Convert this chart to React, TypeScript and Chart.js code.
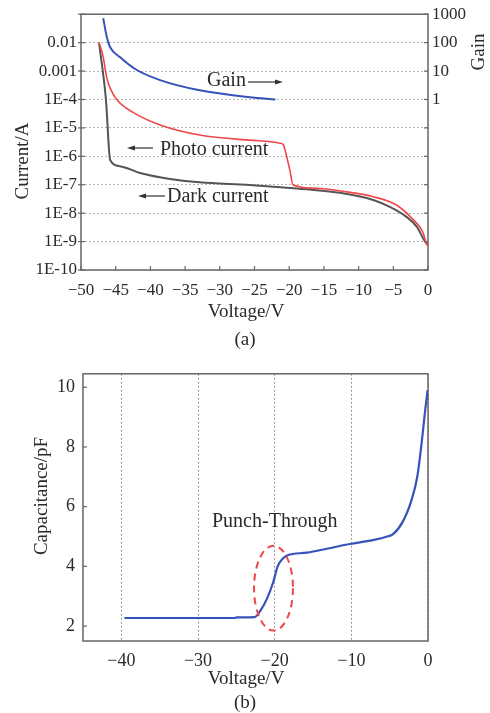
import React, { useEffect, useRef } from 'react';
import { Chart, registerables } from 'chart.js';

Chart.register(...registerables);

const SERIF = '"Liberation Serif", "Times New Roman", Times, serif';
const TEXT = '#2a2a2a';
const FRAME = '#666666';
const RED = '#f0474b';
const GRAY = '#555555';
const BLUE = '#3553b8';

// ---------- (a) current / gain vs voltage ----------
const photoVoltage = [-47.4, -46.8, -46.3, -45.8, -44.8, -42.5, -38.6, -32.9, -25.7, -21.3, -20.8, -20.6, -19.9, -19.45, -15.6, -11.7, -7.9, -4.5, -2.1, -0.76, -0.19, 0];
const photoCurrent = [1.0e-2, 3.1e-3, 6.0e-4, 2.5e-4, 9.5e-5, 3.5e-5, 1.26e-5, 5.6e-6, 3.7e-6, 2.9e-6, 2.45e-6, 1.66e-6, 3.2e-7, 9.8e-8, 7.4e-8, 5.6e-8, 3.8e-8, 1.9e-8, 5.8e-9, 2.2e-9, 8.0e-10, 7.0e-10];

const darkVoltage = [-47.4, -46.4, -45.8, -44.4, -41.5, -37.2, -32.9, -25.7, -22.3, -17.5, -12.7, -7.9, -5.5, -3.1, -1.6, -0.43, 0];
const darkCurrent = [1.0e-2, 9.5e-5, 7.4e-7, 4.5e-7, 2.6e-7, 1.6e-7, 1.23e-7, 9.8e-8, 8.5e-8, 6.9e-8, 5.2e-8, 2.9e-8, 1.66e-8, 7.4e-9, 3.3e-9, 1.0e-9, 8.0e-10];

const gainVoltage = [-46.8, -46.25, -45.8, -44.4, -42.2, -38.6, -32.9, -25.7, -22.0];
const gainValues = [720, 145, 69, 31, 11.8, 4.8, 2.1, 1.2, 1.0];

const currentTickValues = [1e-10, 1e-9, 1e-8, 1e-7, 1e-6, 1e-5, 1e-4, 1e-3, 1e-2, 1e-1];
const currentTickLabels = ['1E-10', '1E-9', '1E-8', '1E-7', '1E-6', '1E-5', '1E-4', '0.001', '0.01', ''];
const gainTickValues = [1e-6, 1e-5, 1e-4, 1e-3, 1e-2, 1e-1, 1, 10, 100, 1000];
const gainTickLabels = ['', '', '', '', '', '', '1', '10', '100', '1000'];
const voltageTicksA = [-50, -45, -40, -35, -30, -25, -20, -15, -10, -5, 0];
const voltageTickLabelsA = ['\u221250', '\u221245', '\u221240', '\u221235', '\u221230', '\u221225', '\u221220', '\u221215', '\u221210', '\u22125', '0'];

// ---------- (b) capacitance vs voltage ----------
const capVoltage = [-39.6, -25.2, -25.0, -22.6, -21.9, -21.0, -20.2, -19.6, -18.9, -18.3, -15.8, -13.2, -10.2, -7.2, -5.2, -4.6, -3.3, -2.1, -1.4, -0.8, -0.4, -0.05];
const capValues = [2.27, 2.27, 2.29, 2.30, 2.50, 2.92, 3.46, 4.01, 4.27, 4.37, 4.46, 4.59, 4.75, 4.88, 5.01, 5.07, 5.49, 6.26, 7.0, 8.2, 9.16, 9.9];

const capTickValues = [2, 4, 6, 8, 10];
const capTickLabels = ['2', '4', '6', '8', '10'];
const voltageTicksB = [-40, -30, -20, -10, 0];
const voltageTickLabelsB = ['\u221240', '\u221230', '\u221220', '\u221210', '0'];

const punchCenter = [-20.15, 3.27];
const punchRadius = [2.54, 1.42];

function toPoints(xs: number[], ys: number[]) {
  return xs.map((x, i) => ({ x, y: ys[i] }));
}

function fixedTicks(values: number[]) {
  return (scale: any) => {
    scale.ticks = values.map((v) => ({ value: v }));
  };
}

function seg(ctx: CanvasRenderingContext2D, x1: number, y1: number, x2: number, y2: number) {
  ctx.beginPath();
  ctx.moveTo(x1, y1);
  ctx.lineTo(x2, y2);
  ctx.stroke();
}

function arrow(ctx: CanvasRenderingContext2D, xFrom: number, xTo: number, y: number) {
  ctx.save();
  ctx.strokeStyle = '#333';
  ctx.fillStyle = '#333';
  ctx.lineWidth = 1.2;
  const dir = Math.sign(xTo - xFrom);
  seg(ctx, xFrom, y, xTo - dir * 4, y);
  ctx.beginPath();
  ctx.moveTo(xTo, y);
  ctx.lineTo(xTo - dir * 8, y - 2.6);
  ctx.lineTo(xTo - dir * 8, y + 2.6);
  ctx.closePath();
  ctx.fill();
  ctx.restore();
}

function text(ctx: CanvasRenderingContext2D, s: string, x: number, y: number, size: number, align: CanvasTextAlign, baseline: CanvasTextBaseline = 'alphabetic', rot = 0) {
  ctx.save();
  ctx.font = `${size}px ${SERIF}`;
  ctx.fillStyle = TEXT;
  ctx.textAlign = align;
  ctx.textBaseline = baseline;
  ctx.translate(x, y);
  if (rot) ctx.rotate(rot);
  ctx.fillText(s, 0, 0);
  ctx.restore();
}

const plotA = {
  id: 'plotA',
  beforeDatasetsDraw(chart: any) {
    const { ctx, chartArea, scales } = chart;
    const { left, right, top, bottom } = chartArea;
    ctx.save();
    ctx.strokeStyle = FRAME;
    ctx.lineWidth = 1.5;
    ctx.strokeRect(left, top, right - left, bottom - top);
    ctx.lineWidth = 1.2;
    currentTickValues.forEach((v) => {
      const y = scales.y.getPixelForValue(v);
      seg(ctx, left - 3, y, left + 4, y);
    });
    gainTickValues.forEach((v) => {
      const y = scales.y1.getPixelForValue(v);
      seg(ctx, right - 4, y, right, y);
    });
    voltageTicksA.forEach((v) => {
      const x = scales.x.getPixelForValue(v);
      seg(ctx, x, bottom, x, bottom - 4);
    });
    ctx.restore();
  },
  afterDraw(chart: any) {
    const ctx = chart.ctx;
    text(ctx, 'Current/A', 23, 161, 19, 'center', 'middle', -Math.PI / 2);
    text(ctx, 'Gain', 479, 52, 19, 'center', 'middle', -Math.PI / 2);
    text(ctx, 'Voltage/V', 246, 317, 19, 'center');
    text(ctx, '(a)', 245, 345, 19, 'center');
    text(ctx, 'Gain', 207, 86, 20, 'left');
    arrow(ctx, 248, 283, 82);
    text(ctx, 'Photo current', 160, 155, 20, 'left');
    arrow(ctx, 153, 127, 148);
    text(ctx, 'Dark current', 167, 202, 20, 'left');
    arrow(ctx, 165, 138, 196);
  },
};

const plotB = {
  id: 'plotB',
  beforeDatasetsDraw(chart: any) {
    const { ctx, chartArea, scales } = chart;
    const { left, right, top, bottom } = chartArea;
    ctx.save();
    ctx.strokeStyle = FRAME;
    ctx.lineWidth = 1.5;
    ctx.strokeRect(left, top, right - left, bottom - top);
    ctx.lineWidth = 1.2;
    capTickValues.forEach((v) => {
      const y = scales.y.getPixelForValue(v);
      seg(ctx, left, y, left + 4, y);
    });
    ctx.restore();
  },
  afterDatasetsDraw(chart: any) {
    const { ctx, scales } = chart;
    const cx = scales.x.getPixelForValue(punchCenter[0]);
    const cy = scales.y.getPixelForValue(punchCenter[1]);
    const rx = Math.abs(scales.x.getPixelForValue(punchCenter[0] + punchRadius[0]) - cx);
    const ry = Math.abs(scales.y.getPixelForValue(punchCenter[1] + punchRadius[1]) - cy);
    ctx.save();
    ctx.strokeStyle = RED;
    ctx.lineWidth = 2;
    ctx.setLineDash([7, 5]);
    ctx.beginPath();
    ctx.ellipse(cx, cy, rx, ry, 0, 0, Math.PI * 2);
    ctx.stroke();
    ctx.restore();
  },
  afterDraw(chart: any) {
    const ctx = chart.ctx;
    text(ctx, 'Capacitance/pF', 42, 141, 19, 'center', 'middle', -Math.PI / 2);
    text(ctx, 'Voltage/V', 246, 329, 19, 'center');
    text(ctx, '(b)', 245, 353, 19, 'center');
    text(ctx, 'Punch-Through', 212, 172, 20, 'left');
  },
};

const tickFont = (size: number) => ({ family: SERIF, size });

function configA(): any {
  return {
    type: 'line',
    data: {
      datasets: [
        { label: 'Photo current', data: toPoints(photoVoltage, photoCurrent), borderColor: RED, borderWidth: 1.6, pointRadius: 0, cubicInterpolationMode: 'monotone', yAxisID: 'y' },
        { label: 'Dark current', data: toPoints(darkVoltage, darkCurrent), borderColor: GRAY, borderWidth: 2, pointRadius: 0, cubicInterpolationMode: 'monotone', yAxisID: 'y' },
        { label: 'Gain', data: toPoints(gainVoltage, gainValues), borderColor: BLUE, borderWidth: 2, pointRadius: 0, cubicInterpolationMode: 'monotone', yAxisID: 'y1' },
      ],
    },
    options: {
      responsive: false,
      animation: false,
      layout: { padding: { top: 14, left: 0, right: 0, bottom: 0 } },
      plugins: { legend: { display: false }, tooltip: { enabled: false }, title: { display: false } },
      scales: {
        x: {
          type: 'linear', min: -50, max: 0,
          afterBuildTicks: fixedTicks(voltageTicksA),
          afterFit: (s: any) => { s.height = 85; },
          grid: { display: false, drawTicks: false },
          border: { display: false },
          ticks: { autoSkip: false, maxRotation: 0, padding: 10, color: TEXT, font: tickFont(17), callback: (_v: any, i: number) => voltageTickLabelsA[i] },
        },
        y: {
          type: 'logarithmic', position: 'left', min: 1e-10, max: 1e-1,
          afterBuildTicks: fixedTicks(currentTickValues),
          afterFit: (s: any) => { s.width = 81; },
          grid: { color: '#b5b5b5', lineWidth: 1, drawTicks: false },
          border: { display: false, dash: [2, 2] },
          ticks: { autoSkip: false, padding: 4, color: TEXT, font: tickFont(17), callback: (_v: any, i: number) => currentTickLabels[i] },
        },
        y1: {
          type: 'logarithmic', position: 'right', min: 1e-6, max: 1e3,
          afterBuildTicks: fixedTicks(gainTickValues),
          afterFit: (s: any) => { s.width = 62; },
          grid: { display: false, drawTicks: false, drawOnChartArea: false },
          border: { display: false },
          ticks: { autoSkip: false, padding: 4, color: TEXT, font: tickFont(17), callback: (_v: any, i: number) => gainTickLabels[i] },
        },
      },
    },
    plugins: [plotA],
  };
}

function configB(): any {
  return {
    type: 'line',
    data: {
      datasets: [
        { label: 'Capacitance', data: toPoints(capVoltage, capValues), borderColor: BLUE, borderWidth: 2.2, pointRadius: 0, cubicInterpolationMode: 'monotone' },
      ],
    },
    options: {
      responsive: false,
      animation: false,
      layout: { padding: { top: 8, left: 0, right: 62, bottom: 0 } },
      plugins: { legend: { display: false }, tooltip: { enabled: false }, title: { display: false } },
      scales: {
        x: {
          type: 'linear', min: -45, max: 0,
          afterBuildTicks: fixedTicks(voltageTicksB),
          afterFit: (s: any) => { s.height = 72; },
          grid: { color: '#9a9a9a', lineWidth: 1, drawTicks: false },
          border: { display: false, dash: [2, 2] },
          ticks: { autoSkip: false, maxRotation: 0, padding: 9, color: TEXT, font: tickFont(18), callback: (_v: any, i: number) => voltageTickLabelsB[i] },
        },
        y: {
          type: 'linear', min: 1.5, max: 10.45,
          afterBuildTicks: fixedTicks(capTickValues),
          afterFit: (s: any) => { s.width = 83; },
          grid: { display: false, drawTicks: false },
          border: { display: false },
          ticks: { autoSkip: false, padding: 8, color: TEXT, font: tickFont(18), callback: (_v: any, i: number) => capTickLabels[i] },
        },
      },
    },
    plugins: [plotB],
  };
}

function ChartCanvas({ make, height }: { make: () => any; height: number }) {
  const ref = useRef<HTMLCanvasElement | null>(null);
  useEffect(() => {
    if (!ref.current) return;
    const chart = new Chart(ref.current, make());
    return () => chart.destroy();
  }, [make]);
  return <canvas ref={ref} width={490} height={height} style={{ display: 'block', width: 490, height }} />;
}

export default function App() {
  return (
    <div style={{ position: 'absolute', left: 0, top: 0, width: 490, height: 713, background: '#fff' }}>
      <ChartCanvas make={configA} height={355} />
      <ChartCanvas make={configB} height={358} />
    </div>
  );
}
